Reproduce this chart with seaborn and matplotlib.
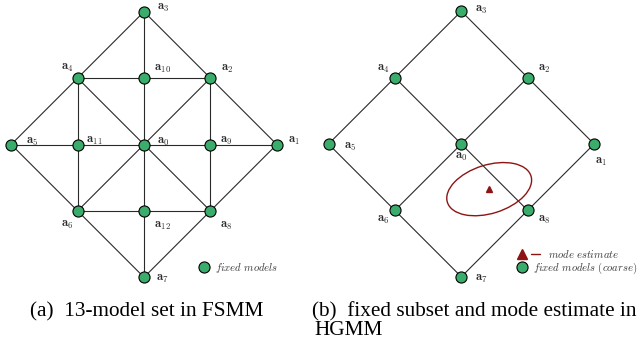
import matplotlib
matplotlib.use("Agg")
import matplotlib.pyplot as plt
import pandas as pd
import seaborn as sns
from matplotlib.lines import Line2D
from matplotlib.patches import Ellipse
from matplotlib.legend_handler import HandlerTuple

# ---- model set (grid units, a0 at the origin) ----
fine_names = ["a0", "a1", "a2", "a3", "a4", "a5", "a6", "a7", "a8",
              "a9", "a10", "a11", "a12"]
fine_x = [0, 2, 1, 0, -1, -2, -1, 0, 1, 1, 0, -1, 0]
fine_y = [0, 0, 1, 2, 1, 0, -1, -2, -1, 0, 1, 0, -1]

# connections of the 13-model set
fine_edges = [
    (3, 2), (2, 1), (1, 8), (8, 7), (7, 6), (6, 5), (5, 4), (4, 3),
    (4, 10), (10, 2), (5, 11), (11, 0), (0, 9), (9, 1), (6, 12), (12, 8),
    (3, 10), (10, 0), (0, 12), (12, 7), (4, 11), (11, 6), (2, 9), (9, 8),
    (4, 0), (0, 8), (2, 0), (0, 6),
]

# coarse fixed subset a0..a8
coarse_names = fine_names[:9]
coarse_x = fine_x[:9]
coarse_y = fine_y[:9]
coarse_edges = [
    (3, 2), (2, 1), (1, 8), (8, 7), (7, 6), (6, 5), (5, 4), (4, 3),
    (4, 0), (0, 8), (2, 0), (0, 6),
]

# mode estimate and its uncertainty ellipse
mode_x, mode_y = 0.42, -0.68
ell_width, ell_height, ell_angle = 1.32, 0.73, 17.5

captions = ["(a)  13-model set in FSMM",
            "(b)  fixed subset and mode estimate in",
            "HGMM"]

# ---- styling ----
W, H, DPI = 637, 350, 100
UNIT = 66.4                      # pixels per grid unit
NODE = "#3aac6c"
DARKRED = "#8e1414"
LINE = "#2a2a2a"
LABEL = "#2b2b2b"

# label offsets in pixels (dx right, dy down)
fine_offsets = {
    "a0": (19, -3), "a1": (17, -4), "a2": (17, -10), "a3": (19, -4),
    "a4": (-10, -11), "a5": (21, -3), "a6": (-10, 14), "a7": (18, 1),
    "a8": (16, 15), "a9": (16, -4), "a10": (19, -10), "a11": (17, -4),
    "a12": (18, 15),
}
coarse_offsets = {
    "a0": (0, 12), "a1": (7, 17), "a2": (17, -9), "a3": (20, -2),
    "a4": (-12, -9), "a5": (22, 2), "a6": (-12, 9), "a7": (20, 2),
    "a8": (17, 9),
}

sns.set_theme(style="white")
plt.rcParams["mathtext.fontset"] = "cm"
plt.rcParams["font.family"] = ["DejaVu Sans"]

fig = plt.figure(figsize=(W / DPI, H / DPI), dpi=DPI)
fig.patch.set_facecolor("white")


def make_axes(px0, px1, py0, py1, ox, oy):
    """Axes covering a pixel box, with the origin at pixel (ox, oy)."""
    ax = fig.add_axes([px0 / W, 1 - py1 / H, (px1 - px0) / W, (py1 - py0) / H])
    ax.set_xlim((px0 - ox) / UNIT, (px1 - ox) / UNIT)
    ax.set_ylim((oy - py1) / UNIT, (oy - py0) / UNIT)
    ax.set_axis_off()
    return ax


def draw_graph(ax, names, xs, ys, edges, offsets):
    for i, j in edges:
        ax.plot([xs[i], xs[j]], [ys[i], ys[j]], color=LINE, lw=0.8,
                zorder=1, solid_capstyle="butt")
    df = pd.DataFrame({"x": xs, "y": ys, "name": names})
    sns.scatterplot(data=df, x="x", y="y", ax=ax, s=64, color=NODE,
                    edgecolor="black", linewidth=0.8, zorder=3, legend=False)
    for n, x, y in zip(names, xs, ys):
        dx, dy = offsets[n]
        ax.annotate(r"$\mathbf{a}_{%s}$" % n[1:], (x, y), xytext=(dx, -dy),
                    textcoords="offset pixels", ha="center", va="center",
                    fontsize=9, color=LABEL, zorder=4)


# (a) 13-model set
ax1 = make_axes(0, 305, 0, 290, 144, 144.5)
draw_graph(ax1, fine_names, fine_x, fine_y, fine_edges, fine_offsets)

# (b) coarse subset with mode estimate
ax2 = make_axes(318, 637, 0, 290, 461.3, 144)
draw_graph(ax2, coarse_names, coarse_x, coarse_y, coarse_edges, coarse_offsets)
ax2.add_patch(Ellipse((mode_x, mode_y), ell_width, ell_height, angle=ell_angle,
                      fill=False, edgecolor=DARKRED, lw=1.0, zorder=2))
ax2.plot([mode_x], [mode_y], marker="^", ms=5, color=DARKRED, ls="none",
         zorder=4)

# legends
node_handle = Line2D([], [], marker="o", ls="none", ms=8, mfc=NODE,
                     mec="black", mew=0.8)
tri_handle = Line2D([], [], marker="^", ls="none", ms=7, color=DARKRED)
dash_handle = Line2D([], [], color=DARKRED, lw=1.0)

legend_kw = dict(frameon=False, borderpad=0, borderaxespad=0,
                 loc="center left", bbox_transform=fig.transFigure,
                 fontsize=7.7, labelcolor="#3a3a3a")

leg_a = ax1.legend([node_handle], [r"$\mathit{fixed\ models}$"],
                   bbox_to_anchor=(198.5 / W, 1 - 268 / H),
                   handlelength=1.05, handletextpad=0.5, **legend_kw)

leg_b1 = ax2.legend([(tri_handle, dash_handle)], [r"$\mathit{mode\ estimate}$"],
                    handler_map={tuple: HandlerTuple(ndivide=None, pad=0.4)},
                    bbox_to_anchor=(517.5 / W, 1 - 254 / H),
                    handlelength=2.1, handletextpad=0.75, **legend_kw)
ax2.add_artist(leg_b1)
leg_b2 = ax2.legend([node_handle], [r"$\mathit{fixed\ models\ (coarse)}$"],
                    bbox_to_anchor=(516.5 / W, 1 - 268 / H),
                    handlelength=1.05, handletextpad=0.45, **legend_kw)

# sub-captions
cap_kw = dict(family=["Liberation Serif", "DejaVu Serif"], fontsize=15.3,
              color="black", va="baseline", ha="left")
fig.text(30 / W, 1 - 316 / H, captions[0], **cap_kw)
fig.text(312 / W, 1 - 316 / H, captions[1], **cap_kw)
fig.text(314 / W, 1 - 335 / H, captions[2], **cap_kw)

fig.savefig("out.png", dpi=DPI, facecolor="white")
